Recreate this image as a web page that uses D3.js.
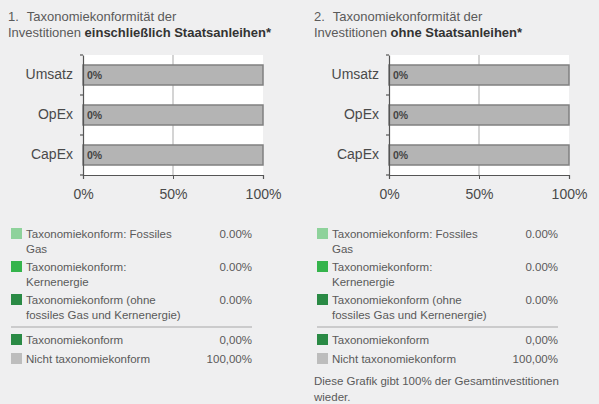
<!DOCTYPE html>
<html>
<head>
<meta charset="utf-8">
<script src="https://cdn.jsdelivr.net/npm/d3@7"></script>
<style>
  body { margin: 0; background: #efeff0; font-family: "Liberation Sans", Arial, sans-serif; }
  svg { display: block; }
</style>
</head>
<body>
<div id="chart"></div>
<script>
// Daten
const categories = ["Umsatz", "OpEx", "CapEx"];
const konform1 = [0, 0, 0];   // einschließlich Staatsanleihen
const konform2 = [0, 0, 0];   // ohne Staatsanleihen
const xTicks = [0, 50, 100];

const titleNum = ["1.", "2."];
const titleLine1 = "Taxonomiekonformität der";
const titleBold = ["einschließlich Staatsanleihen*", "ohne Staatsanleihen*"];

const legendLabels = [
  ["Taxonomiekonform: Fossiles", "Gas"],
  ["Taxonomiekonform:", "Kernenergie"],
  ["Taxonomiekonform (ohne", "fossiles Gas und Kernenergie)"]
];
const legendColors = ["#8ed29b", "#35b44c", "#2a8a45"];
const legendValues1 = ["0.00%", "0.00%", "0.00%"];
const legendValues2 = ["0.00%", "0.00%", "0.00%"];

const totalLabels = ["Taxonomiekonform", "Nicht taxonomiekonform"];
const totalColors = ["#2a8a45", "#bdbdbd"];
const totalValues1 = ["0,00%", "100,00%"];
const totalValues2 = ["0,00%", "100,00%"];

const footnote = ["Diese Grafik gibt 100% der Gesamtinvestitionen", "wieder."];

const width = 599, height = 404;
const svg = d3.select("#chart").append("svg")
  .attr("width", width).attr("height", height);

function panel(i, offsetX, values, legVals, totVals) {
  const g = svg.append("g").attr("transform", `translate(${offsetX},0)`);

  // Titel
  const t = g.append("text").attr("x", 8).attr("y", 21)
    .attr("font-size", 13).attr("fill", "#5a5a5a");
  t.append("tspan").text(titleNum[i]);
  t.append("tspan").attr("dx", 8).text(titleLine1);
  const t2 = g.append("text").attr("x", 8).attr("y", 37)
    .attr("font-size", 13).attr("fill", "#5a5a5a");
  t2.append("tspan").text("Investitionen ");
  t2.append("tspan").attr("font-weight", "bold").attr("fill", "#333").text(titleBold[i]);

  const left = 83, right = 263, top = 55, bottom = 175;
  const x = d3.scaleLinear().domain([0, 100]).range([left, right]);
  const y = d3.scaleBand().domain(categories).range([top, bottom])
    .paddingInner(0.5).paddingOuter(0.25);

  g.append("rect").attr("x", left).attr("y", top)
    .attr("width", right - left).attr("height", bottom - top).attr("fill", "#fff");

  // Gitterlinie
  g.selectAll(".grid").data(xTicks.slice(1, -1)).join("line")
    .attr("x1", d => x(d)).attr("x2", d => x(d))
    .attr("y1", top).attr("y2", bottom)
    .attr("stroke", "#b8b8b8").attr("stroke-width", 1.2);

  // Balken: nicht konform (grau)
  g.selectAll(".bar").data(categories).join("rect")
    .attr("x", d => x(values[categories.indexOf(d)]))
    .attr("y", d => y(d))
    .attr("width", d => x(100) - x(values[categories.indexOf(d)]))
    .attr("height", y.bandwidth())
    .attr("fill", "#b4b4b4").attr("stroke", "#808080").attr("stroke-width", 1.5);

  // Balken: konform (grün)
  g.selectAll(".barg").data(categories).join("rect")
    .attr("x", x(0)).attr("y", d => y(d))
    .attr("width", d => x(values[categories.indexOf(d)]) - x(0))
    .attr("height", y.bandwidth())
    .attr("fill", "#2a8a45");

  g.selectAll(".lbl").data(categories).join("text")
    .attr("x", left + 4).attr("y", d => y(d) + y.bandwidth() / 2)
    .attr("dy", "0.35em").attr("font-size", 10.5).attr("font-weight", "bold")
    .attr("fill", "#444").text(d => values[categories.indexOf(d)] + "%");

  // Achsen
  const yAxis = g.append("g").attr("transform", `translate(${left},0)`)
    .call(d3.axisLeft(y).tickSize(0).tickPadding(10));
  yAxis.select(".domain").attr("stroke", "#555").attr("stroke-width", 1.2);
  yAxis.selectAll("text").attr("font-size", 14).attr("fill", "#4a4a4a")
    .attr("font-family", "Liberation Sans, Arial, sans-serif");
  // Teilstriche zwischen den Kategorien
  g.selectAll(".ytick").data(d3.range(categories.length + 1)).join("line")
    .attr("x1", left - 3).attr("x2", left)
    .attr("y1", d => top + d * (bottom - top) / categories.length)
    .attr("y2", d => top + d * (bottom - top) / categories.length)
    .attr("stroke", "#555").attr("stroke-width", 1.2);

  const xAxis = g.append("g").attr("transform", `translate(0,${bottom})`)
    .call(d3.axisBottom(x).tickValues(xTicks).tickFormat(d => d + "%").tickSize(4).tickPadding(10));
  xAxis.select(".domain").attr("stroke", "#555").attr("stroke-width", 1.2);
  xAxis.selectAll("line").attr("stroke", "#555");
  xAxis.selectAll("text").attr("font-size", 14).attr("fill", "#4a4a4a")
    .attr("font-family", "Liberation Sans, Arial, sans-serif");

  // Legende
  const lx = 11, vx = 252, rowY = [228, 261, 294];
  legendLabels.forEach((lines, k) => {
    g.append("rect").attr("x", lx).attr("y", rowY[k]).attr("width", 11).attr("height", 11)
      .attr("fill", legendColors[k]);
    lines.forEach((s, j) => {
      g.append("text").attr("x", lx + 15).attr("y", rowY[k] + 10 + j * 14.5)
        .attr("font-size", 11.5).attr("fill", "#5a5a5a").text(s);
    });
    g.append("text").attr("x", vx).attr("y", rowY[k] + 10).attr("text-anchor", "end")
      .attr("font-size", 11.5).attr("fill", "#5a5a5a").text(legVals[k]);
  });

  g.append("line").attr("x1", lx).attr("x2", vx).attr("y1", 327).attr("y2", 327)
    .attr("stroke", "#a8a8a8").attr("stroke-width", 1.2);

  const totY = [334, 353];
  totalLabels.forEach((s, k) => {
    g.append("rect").attr("x", lx).attr("y", totY[k]).attr("width", 11).attr("height", 11)
      .attr("fill", totalColors[k]);
    g.append("text").attr("x", lx + 15).attr("y", totY[k] + 10)
      .attr("font-size", 11.5).attr("fill", "#5a5a5a").text(s);
    g.append("text").attr("x", vx).attr("y", totY[k] + 10).attr("text-anchor", "end")
      .attr("font-size", 11.5).attr("fill", "#5a5a5a").text(totVals[k]);
  });

  return g;
}

panel(0, 0, konform1, legendValues1, totalValues1);
const p2 = panel(1, 306, konform2, legendValues2, totalValues2);

p2.selectAll(".foot").data(footnote).join("text")
  .attr("x", 8).attr("y", (d, j) => 385 + j * 15.5)
  .attr("font-size", 11.5).attr("fill", "#5a5a5a").text(d => d);
</script>
</body>
</html>
